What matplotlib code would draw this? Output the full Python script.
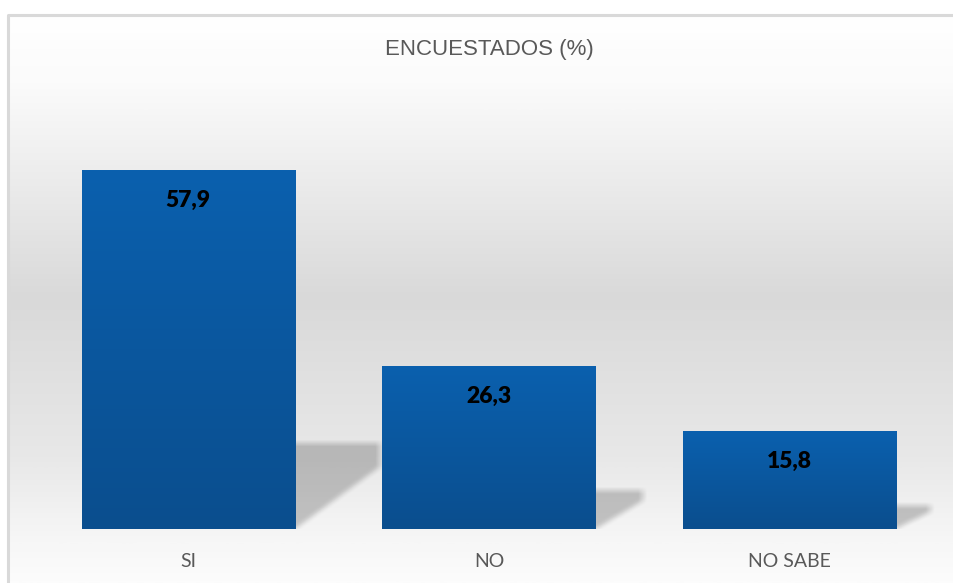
"""Encuestados (%) — Excel-style gradient bar chart with perspective shadows."""

import numpy as np
import matplotlib
matplotlib.use("Agg")
import matplotlib.pyplot as plt
from matplotlib.colors import LinearSegmentedColormap

CATEGORIES = ["SI", "NO", "NO SABE"]
VALUES = [57.9, 26.3, 15.8]
TITLE = "ENCUESTADOS (%)"

W_PX, H_PX = 954, 583
BAR_W = 0.71


def box_blur(a, k, axis):
    kern = np.ones(k) / k
    return np.apply_along_axis(lambda m: np.convolve(m, kern, mode="same"), axis, a)


def main():
    fig = plt.figure(figsize=(W_PX / 100, H_PX / 100), dpi=100)

    # ── background: chart area with vertical grey gradient + light border ──
    bg = fig.add_axes([0, 0, 1, 1], zorder=0)
    bg.set_xlim(0, W_PX)
    bg.set_ylim(H_PX, 0)
    bg.axis("off")
    stops = [(0.0, "#ffffff"), (0.12, "#fbfbfb"), (0.5, "#d9d9d9"),
             (0.78, "#e8e8e8"), (0.92, "#f6f6f6"), (1.0, "#fcfcfc")]
    bg_cmap = LinearSegmentedColormap.from_list("bg", stops)
    grad = np.linspace(0, 1, 400).reshape(-1, 1)
    bg.imshow(grad, cmap=bg_cmap, aspect="auto", extent=(8, W_PX, H_PX, 14),
              interpolation="bilinear")
    bg.plot([8.5, 8.5, W_PX], [H_PX, 14.5, 14.5], color="#d9d9d9", lw=2.2,
            solid_capstyle="butt")

    # ── main axes ──
    left = 38 / W_PX
    bottom = (H_PX - 529) / H_PX
    ymax = 65
    height = ymax * 6.2 / H_PX
    ax = fig.add_axes([left, bottom, 902 / W_PX, height], zorder=1)
    ax.patch.set_alpha(0)
    x = np.arange(len(CATEGORIES))
    for s in ax.spines.values():
        s.set_visible(False)
    ax.set_yticks([])
    ax.set_xticks(x)
    ax.set_xticklabels(CATEGORIES, fontfamily="Lato", fontsize=14,
                       color="#595959")
    ax.tick_params(axis="x", length=0, pad=17)

    # perspective shadows (blurred mask drawn to the right of each bar)
    for xi, v in zip(x, VALUES):
        r = xi + BAR_W / 2
        hs = 0.24 * v
        dx = 0.05 + 0.004 * v
        x0, x1 = r - 0.1, r + dx + 0.08
        y0, y1 = 0, hs + 2.5
        nx, ny = int((x1 - x0) * 301), int((y1 - y0) * 6.2)
        gx = np.linspace(x0, x1, nx)
        gy = np.linspace(y1, y0, ny)
        X, Y = np.meshgrid(gx, gy)
        ydiag = 0.72 * hs * (X - r) / dx
        mask = ((X >= r - 0.1) & (X <= r + dx) & (Y <= hs) & (Y >= 0)
                & (Y >= ydiag)).astype(float)
        mask = box_blur(mask, 9, 1)
        mask = box_blur(mask, 7, 0)
        rgba = np.zeros((ny, nx, 4))
        rgba[..., 3] = 0.21 * mask
        ax.imshow(rgba, extent=(x0, x1, y0, y1), aspect="auto", zorder=1,
                  interpolation="bilinear")

    bars = ax.bar(x, VALUES, width=BAR_W, color="none", zorder=2)
    bar_cmap = LinearSegmentedColormap.from_list("bar", ["#0b4e8e", "#0a60ae"])
    for b in bars:
        bx, by = b.get_x(), b.get_y()
        im = ax.imshow(np.linspace(1, 0, 200).reshape(-1, 1), cmap=bar_cmap,
                       aspect="auto", zorder=2, interpolation="bilinear",
                       extent=(bx, bx + b.get_width(), by, by + b.get_height()))
        im.set_clip_path(b)
    ax.set_xlim(-0.5, len(CATEGORIES) - 0.5)
    ax.set_ylim(0, ymax)

    for xi, v in zip(x, VALUES):
        ax.annotate(f"{v:.1f}".replace(".", ","), xy=(xi, v), xytext=(0, -22),
                    textcoords="offset points", ha="center", va="center",
                    fontfamily="Lato", fontweight="heavy", fontsize=16.5,
                    color="black", zorder=3)

    fig.text(489 / W_PX, 1 - 50 / H_PX, TITLE, ha="center", va="center",
             fontfamily="Liberation Sans", fontsize=16, color="#595959")

    fig.savefig("out.png", dpi=100)
    plt.close(fig)


if __name__ == "__main__":
    main()
